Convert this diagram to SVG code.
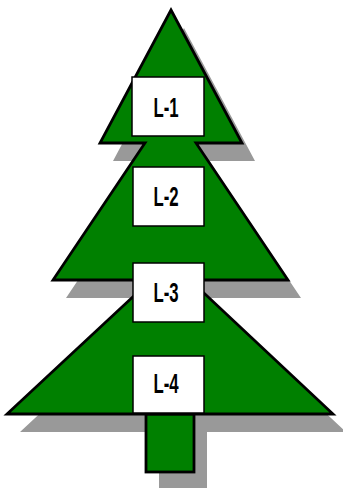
<svg xmlns="http://www.w3.org/2000/svg" width="343" height="488" viewBox="0 0 343 488">
  <defs>
    <style>
      .shadow { fill: #999999; stroke: none; }
      .tree { fill: #008000; stroke: #000000; stroke-width: 2.8; stroke-linejoin: miter; }
      .box { fill: #ffffff; stroke: #000000; stroke-width: 1.5; }
      .label { font-family: "Liberation Sans", Arial, sans-serif; font-weight: bold; font-size: 28px; fill: #000000; text-anchor: middle; }
    </style>
    <!-- tiered tree outline: top triangle, middle tier, bottom tier -->
    <path id="crown" d="M171,10 L242,143 L196,143 L288,280 L190,280 L333,414 L7,414 L151,280 L53,280 L145,143 L100,143 Z"/>
    <rect id="trunkShape" x="146" y="414" width="48" height="58"/>
  </defs>

  <!-- drop shadow -->
  <g id="shadow" class="shadow" transform="translate(13,18)">
    <use href="#crown"/>
    <use href="#trunkShape"/>
  </g>

  <!-- tree body -->
  <g id="trunk">
    <use href="#trunkShape" class="tree"/>
  </g>
  <g id="crown-body">
    <use href="#crown" class="tree"/>
  </g>

  <!-- level boxes -->
  <g id="L-1">
    <rect class="box" x="132" y="77" width="72" height="59"/>
    <text class="label" transform="translate(166,117) scale(0.6,1)">L-1</text>
  </g>
  <g id="L-2">
    <rect class="box" x="133" y="167" width="71" height="59"/>
    <text class="label" transform="translate(166,206) scale(0.6,1)">L-2</text>
  </g>
  <g id="L-3">
    <rect class="box" x="133" y="263" width="71" height="59"/>
    <text class="label" transform="translate(166,302) scale(0.6,1)">L-3</text>
  </g>
  <g id="L-4">
    <rect class="box" x="133" y="356" width="71" height="57"/>
    <text class="label" transform="translate(166,393) scale(0.6,1)">L-4</text>
  </g>
</svg>
